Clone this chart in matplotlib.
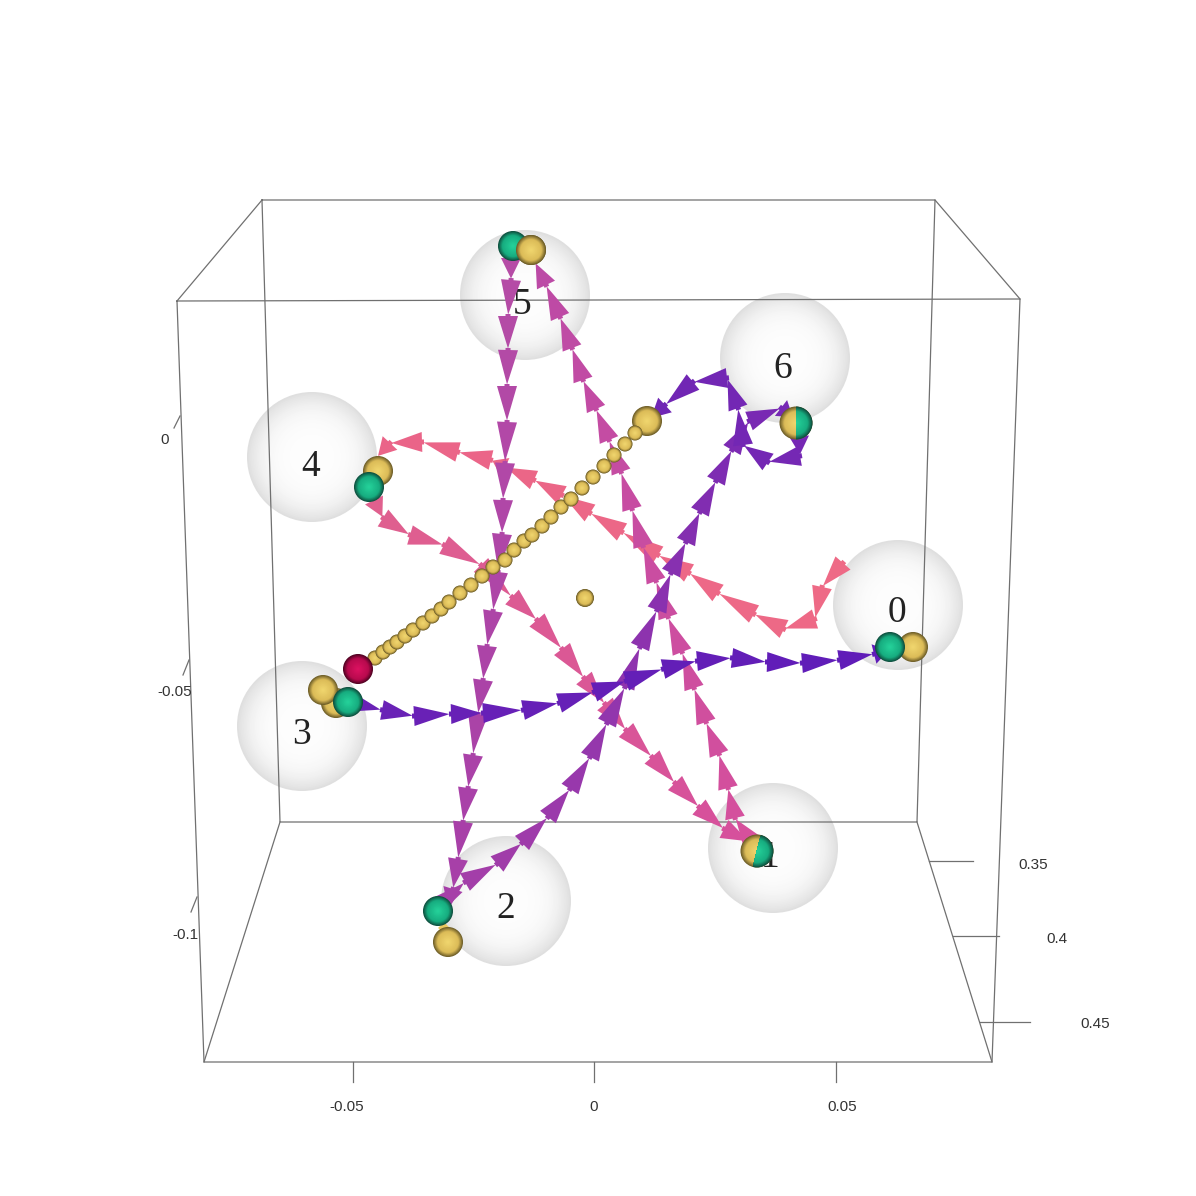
import matplotlib
matplotlib.use("Agg")
from matplotlib import pyplot as plt
from matplotlib.colors import to_rgb
from matplotlib.patches import Circle, Polygon
import numpy as np

path_3_0 = [(350,702),(382,710),(414,716),(451,714),(483,713),(523,710),(559,703),(594,692),
	(626,681),(663,669),(697,661),(732,658),(767,662),(802,663),(839,660),(874,654),(890,650)]
path_2_6 = [(440,905),(465,882),(497,864),(522,843),(548,817),(570,789),(590,757),(607,723),
	(625,687),(640,647),(657,610),(671,573),(686,542),(700,512),(716,481),(732,450),(749,421),
	(781,408),(794,418)]
path_6_c = [(799,436),(800,456),(768,462),(743,445),(738,408),(727,378),(693,382),(665,405),(650,419)]
path_5_2 = [(511,258),(511,280),(508,316),(508,350),(507,386),(507,422),(505,463),(503,500),
	(502,534),(498,572),(493,611),(487,646),(483,680),(478,714),(473,755),(468,788),(463,822),
	(458,859),(453,889),(447,908)]
path_1_5 = [(752,842),(735,818),(728,788),(719,754),(706,722),(694,688),(682,652),(668,617),
	(656,581),(643,546),(632,509),(621,472),(609,440),(596,409),(583,380),(572,348),(560,317),
	(546,285),(535,262)]
path_4_1 = [(374,500),(383,518),(410,535),(444,545),(481,565),(512,597),(537,620),(562,649),
	(584,678),(605,704),(626,730),(652,757),(675,783),(699,807),(724,829),(750,842)]
path_0_4 = [(843,563),(822,587),(815,619),(784,629),(754,614),(718,593),(689,573),(658,555),
	(622,532),(590,513),(562,495),(534,480),(505,467),(491,460),(458,452),(422,442),(390,443),(377,457)]

# small beads between the red ball and the big yellow one
chain = [(375,658),(383,652),(390,647),(397,642),(405,636),(413,630),(423,623),(432,616),(441,609),
	(449,602),(460,593),(471,585),(482,576),(493,567),(505,560),(514,550),(524,541),(532,535),
	(542,526),(551,517),(561,507),(571,499),(582,488),(593,477),(604,466),(614,455),(625,444),(635,433)]

sphere_x = [898,773,506,302,312,525,785]
sphere_y = [605,848,901,726,457,295,358]
sphere_labels = ["0","1","2","3","4","5","6"]
label_x = [897,770,506,301,311,522,783]
label_y = [613,858,909,735,467,305,369]

green_balls = [(890,647),(438,911),(348,702),(369,487),(513,246)]
yellow_balls = [(913,647),(448,942),(336,703),(323,690),(378,471),(531,250),(647,421)]
split_balls = [(757,851),(796,423)]

back_box = [(262,200),(935,200),(917,822),(280,822),(262,200)]
front_box = [(177,301),(1020,299),(992,1062),(204,1062),(177,301)]
box_links = [((177,301),(262,200)),((1020,299),(935,200)),((204,1062),(280,822)),((992,1062),(917,822))]

x_ticks = [((353,1062),(353,1082)),((594,1062),(594,1082)),((836,1062),(836,1082))]
x_labels = [(347,1107,"-0.05"),(594,1107,"0"),(842,1107,"0.05")]
y_ticks = [((180,416),(174,428)),((189,660),(183,675)),((197,897),(191,912))]
y_labels = [(165,440,"0"),(175,692,"-0.05"),(185,935,"-0.1")]
z_ticks = [((929,861),(973,861)),((953,936),(999,936)),((980,1022),(1030,1022))]
z_labels = [(1033,865,"0.35"),(1057,939,"0.4"),(1095,1024,"0.45")]

fig = plt.figure(figsize=(11.96, 11.96), dpi=100)
ax = fig.add_axes([0, 0, 1, 1])
ax.set_xlim(0, 1196)
ax.set_ylim(1196, 0)
ax.axis("off")

def mix(a, b, t):
	a = np.array(to_rgb(a))
	b = np.array(to_rgb(b))
	return tuple(a + (b - a) * t)

def sphere(x, y, r=65):
	# soft grey rim, almost white in the middle
	for f in np.linspace(1, 0.03, 40):
		g = (253 - 30 * f ** 4) / 255
		ax.add_patch(Circle((x, y), r * f, fc=(g, g, g), ec="none", zorder=1))

def ball(x, y, r, colors, z=5, clip=None):
	edge, mid, center = colors
	for f in np.linspace(1, 0.04, 24):
		if f > 0.72:
			c = mix(edge, mid, min(1, (1 - f) / 0.28))
		else:
			c = mix(mid, center, (0.72 - f) / 0.72)
		p = Circle((x, y), r * f, fc=c, ec="none", zorder=z)
		ax.add_patch(p)
		if clip is not None:
			p.set_clip_path(Polygon(clip, transform=ax.transData))

def arrow(p, q, color, z):
	p = np.array(p, dtype=float)
	q = np.array(q, dtype=float)
	d = q - p
	d = d / np.hypot(d[0], d[1])
	n = np.array([-d[1], d[0]])
	hw = 10
	tip = q - d * 1.5
	shape = [tip, p + n * hw, p + n * 2.5, p - d * 2 + n * 2.5, p - d * 2 - n * 2.5, p - n * 2.5, p - n * hw]
	ax.add_patch(Polygon(shape, fc=color, ec="none", zorder=z))

def draw_path(path, c1, c2, z=3):
	for i in range(len(path) - 1):
		arrow(path[i], path[i + 1], mix(c1, c2, i / (len(path) - 2)), z)

for x, y in zip(sphere_x, sphere_y):
	sphere(x, y)

# box and axes
for line in [back_box, front_box]:
	ax.plot([p[0] for p in line], [p[1] for p in line], color="#707070", lw=0.9, zorder=2)
for a, b in box_links + x_ticks + y_ticks + z_ticks:
	ax.plot([a[0], b[0]], [a[1], b[1]], color="#707070", lw=0.9, zorder=2)
for x, y, s in x_labels + y_labels + z_labels:
	ax.text(x, y, s, fontsize=11, family="Liberation Sans", color="#333333", ha="center", va="center")

for x, y, s in zip(label_x, label_y, sphere_labels):
	ax.text(x, y, s, fontsize=27, family="Liberation Serif", color="#222222", ha="center", va="center", zorder=2.5)

draw_path(path_0_4, "#ee6a86", "#ea6488", 3.1)
draw_path(path_4_1, "#e0608e", "#d6509c", 3.2)
draw_path(path_1_5, "#d6509c", "#bc4aa6", 3.3)
draw_path(path_5_2, "#b64ca6", "#a63fa8", 3.4)
draw_path(path_2_6, "#a63fa8", "#7628b4", 3.5)
draw_path(path_6_c, "#7628b4", "#7026b4", 3.5)
draw_path(path_3_0, "#6a22b6", "#5f1cb8", 3.6)

GREEN = ("#0f4f3e", "#17ad80", "#26d49c")
YELLOW = ("#6e5e28", "#dcbc58", "#f2d870")
RED = ("#500322", "#b80a4e", "#de1262")

# stub that joins the two balls next to sphere 2
ax.plot([441, 446], [925, 930], color="#e8c860", lw=6, zorder=4.5, solid_capstyle="butt")

for x, y in chain:
	ball(x, y, 7.5, YELLOW, z=6)
ball(358, 669, 15, RED, z=7)
ball(585, 598, 9, YELLOW, z=6)
for x, y in green_balls:
	ball(x, y, 15, GREEN, z=5)
for x, y in yellow_balls:
	ball(x, y, 15, YELLOW, z=4.8)
# at sphere 5 the yellow ball lies on top
ball(531, 250, 15, YELLOW, z=5.5)

# the two balls where green and yellow sit on the same spot
ball(split_balls[0][0], split_balls[0][1], 16.5, YELLOW, z=5)
ball(split_balls[0][0], split_balls[0][1], 16.5, GREEN, z=5.1, clip=[(762,830),(790,830),(790,870),(752,870)])
ball(split_balls[1][0], split_balls[1][1], 16.5, YELLOW, z=5)
ball(split_balls[1][0], split_balls[1][1], 16.5, GREEN, z=5.1, clip=[(796,400),(820,400),(820,445),(796,445)])

fig.savefig("out.png", dpi=100)
